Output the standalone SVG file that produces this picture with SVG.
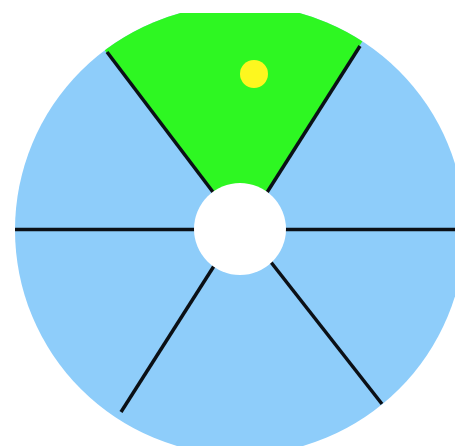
<svg xmlns="http://www.w3.org/2000/svg" width="455" height="446" viewBox="0 0 455 446">
  <style>
    .blue { fill: #8ecdfa; }
    .green { fill: #2ef722; }
    .spoke { stroke: #0b1016; stroke-width: 3.5; fill: none; stroke-linecap: butt; }
    .hub { fill: #ffffff; }
    .dot { fill: #fdf71f; }
  </style>
  <defs>
    <clipPath id="discClip">
      <rect x="0" y="13" width="455" height="433"/>
    </clipPath>
    <clipPath id="circleClip">
      <circle cx="240" cy="230" r="225"/>
    </clipPath>
  </defs>
  <rect x="0" y="0" width="455" height="446" fill="#ffffff"/>
  <g clip-path="url(#discClip)">
    <g id="disc">
      <circle class="blue" cx="240" cy="230" r="225"/>
    </g>
    <g id="sector-green" clip-path="url(#circleClip)">
      <polygon class="green" points="242,231 72,7 72,-20 400,-20 400,-18"/>
    </g>
    <g id="connectors" clip-path="url(#circleClip)">
      <line class="spoke" x1="0" y1="229.5" x2="455" y2="229.5"/>
      <line class="spoke" x1="222" y1="204" x2="107" y2="52"/>
      <line class="spoke" x1="259" y1="205" x2="360" y2="46"/>
      <line class="spoke" x1="221" y1="255" x2="121" y2="412"/>
      <line class="spoke" x1="263" y1="252" x2="382" y2="404"/>
    </g>
    <g id="hub">
      <circle class="hub" cx="240" cy="229" r="46"/>
    </g>
    <g id="dot">
      <circle class="dot" cx="254" cy="74" r="14"/>
    </g>
  </g>
</svg>
